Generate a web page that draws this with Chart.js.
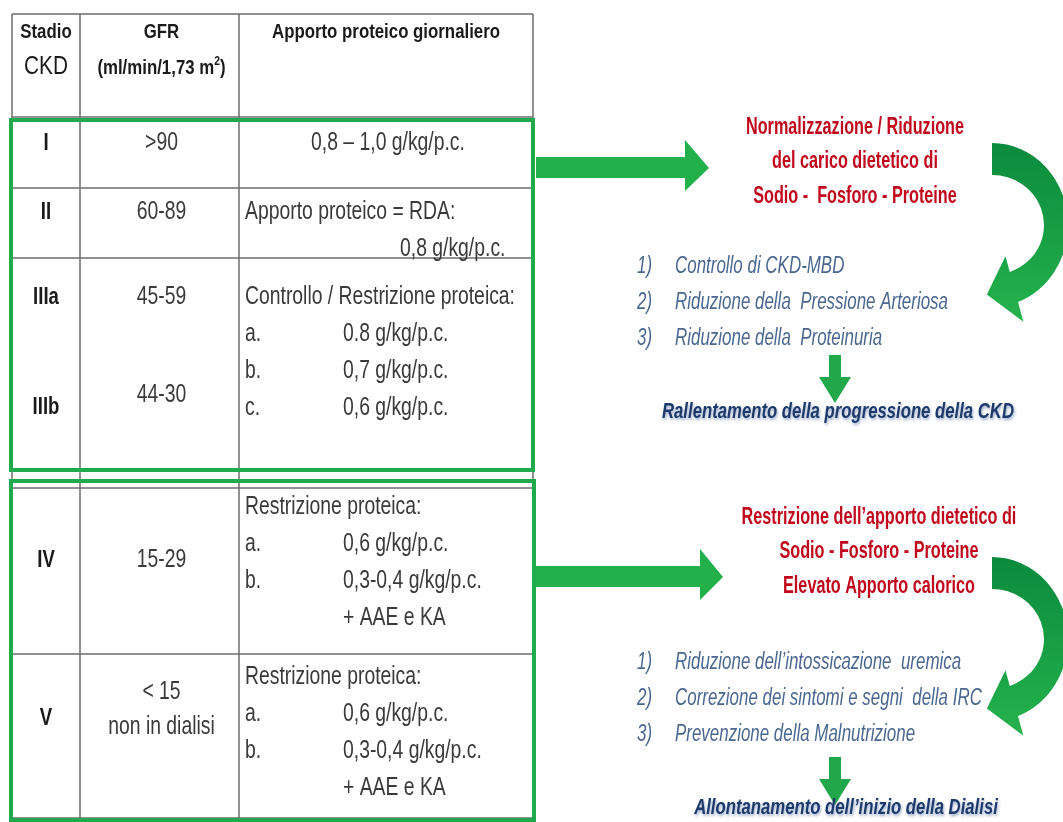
<!DOCTYPE html>
<html>
<head>
<meta charset="utf-8">
<script src="https://cdn.jsdelivr.net/npm/chart.js@4.4.1/dist/chart.umd.min.js"></script>
<style>
  html, body { margin: 0; padding: 0; background: #fff; }
  canvas { display: block; }
</style>
</head>
<body>
<canvas id="ckdChart" width="1063" height="822"></canvas>
<script>
// table content
var headers = [['Stadio', 'CKD'], ['GFR', '(ml/min/1,73 m', '2', ')'], ['Apporto proteico giornaliero']];
var stages = ['I', 'II', 'IIIa', 'IIIb', 'IV', 'V'];
var gfrRanges = [['>90'], ['60-89'], ['45-59'], ['44-30'], ['15-29'], ['< 15', 'non in dialisi']];
var intakeTitles = ['0,8 – 1,0 g/kg/p.c.', 'Apporto proteico = RDA:', 'Controllo / Restrizione proteica:', 'Restrizione proteica:', 'Restrizione proteica:'];
var intakeItems = [
  [],
  [['', '0,8 g/kg/p.c.']],
  [['a.', '0.8 g/kg/p.c.'], ['b.', '0,7 g/kg/p.c.'], ['c.', '0,6 g/kg/p.c.']],
  [['a.', '0,6 g/kg/p.c.'], ['b.', '0,3-0,4 g/kg/p.c.'], ['', '+ AAE e KA']],
  [['a.', '0,6 g/kg/p.c.'], ['b.', '0,3-0,4 g/kg/p.c.'], ['', '+ AAE e KA']]
];

// right side
var goals1 = ['Normalizzazione / Riduzione', 'del carico dietetico di', 'Sodio -  Fosforo - Proteine'];
var effects1 = ['Controllo di CKD-MBD', 'Riduzione della  Pressione Arteriosa', 'Riduzione della  Proteinuria'];
var outcome1 = 'Rallentamento della progressione della CKD';
var goals2 = ['Restrizione dell’apporto dietetico di', 'Sodio - Fosforo - Proteine', 'Elevato Apporto calorico'];
var effects2 = ['Riduzione dell’intossicazione  uremica', 'Correzione dei sintomi e segni  della IRC', 'Prevenzione della Malnutrizione'];
var outcome2 = 'Allontanamento dell’inizio della Dialisi';

// layout (pixels in the scale space)
var W = 1063, H = 822;
var cols = [12, 80, 239, 533];
var grayRows = [14, 117, 188, 258, 470, 488, 654, 818];
var stageY = [143, 212, 297, 407, 560, 718];
var gfrY = [[143], [212], [297], [395], [560], [692, 727]];
var intakeY = [143, 212, 297, 507, 677];
var lineStep = 37;
var greenBoxes = [[11, 120, 533, 470], [11, 481, 534, 820]];
var sections = [
  { goalsX: 855, goalsY: 127, listY: 267, outY: 412, outX: 838, arrowY: 168, arrowTip: 709, arrowBase: 685, downY: 355, curveTop: 143 },
  { goalsX: 879, goalsY: 517, listY: 663, outY: 808, outX: 846, arrowY: 577, arrowTip: 723, arrowBase: 700, downY: 757, curveTop: 557 }
];

var FONT = '"Liberation Sans", Arial, sans-serif';
var green = '#20a94d';

function diagram(chart) {
  var ctx = chart.ctx;
  var xs = chart.scales.x, ys = chart.scales.y;
  var X = function (v) { return xs.getPixelForValue(v); };
  var Y = function (v) { return ys.getPixelForValue(v); };

  function fitScale(font, s, w) {
    ctx.save(); ctx.font = font;
    var m = ctx.measureText(s).width; ctx.restore();
    return w / m;
  }
  function txt(s, x, y, font, color, sx, align) {
    ctx.save();
    ctx.font = font; ctx.fillStyle = color; ctx.textBaseline = 'middle';
    ctx.textAlign = align || 'left';
    ctx.translate(X(x), Y(y)); ctx.scale(sx, 1);
    ctx.fillText(s, 0, 0);
    ctx.restore();
  }

  ctx.save();
  ctx.fillStyle = '#fff';
  ctx.fillRect(0, 0, chart.width, chart.height);

  // gray grid
  ctx.strokeStyle = '#6e6e6e'; ctx.lineWidth = 1.5;
  ctx.beginPath();
  grayRows.forEach(function (r) { ctx.moveTo(X(cols[0]), Y(r)); ctx.lineTo(X(cols[3]), Y(r)); });
  cols.forEach(function (c) { ctx.moveTo(X(c), Y(grayRows[0])); ctx.lineTo(X(c), Y(grayRows[grayRows.length - 1])); });
  ctx.stroke();

  // green boxes
  ctx.strokeStyle = green; ctx.lineWidth = 4;
  greenBoxes.forEach(function (b) {
    ctx.strokeRect(X(b[0]), Y(b[1]), X(b[2]) - X(b[0]), Y(b[3]) - Y(b[1]));
  });

  // header
  var fH = 'bold 21px ' + FONT;
  var sxH = fitScale(fH, headers[2][0], 228);
  var c1 = (cols[0] + cols[1]) / 2, c2 = (cols[1] + cols[2]) / 2, c3 = (cols[2] + cols[3]) / 2;
  txt(headers[0][0], c1, 32, fH, '#1a1a1a', sxH, 'center');
  txt(headers[0][1], c1, 67, '26px ' + FONT, '#1a1a1a', sxH, 'center');
  txt(headers[1][0], c2 + 2, 32, fH, '#1a1a1a', sxH, 'center');
  // GFR unit with superscript
  ctx.save(); ctx.font = fH;
  var wa = ctx.measureText(headers[1][1]).width * sxH;
  var wc = ctx.measureText(headers[1][3]).width * sxH;
  ctx.font = 'bold 13px ' + FONT;
  var wb = ctx.measureText(headers[1][2]).width * sxH;
  ctx.restore();
  var gx = c2 + 2 - (wa + wb + wc) / 2;
  txt(headers[1][1], gx, 68, fH, '#1a1a1a', sxH);
  txt(headers[1][2], gx + wa, 61, 'bold 13px ' + FONT, '#1a1a1a', sxH);
  txt(headers[1][3], gx + wa + wb, 68, fH, '#1a1a1a', sxH);
  txt(headers[2][0], c3, 32, fH, '#1a1a1a', sxH, 'center');

  // stages, GFR, intake
  var fS = 'bold 24px ' + FONT;
  var fB = '25px ' + FONT;
  var sxB = fitScale(fB, intakeTitles[2], 270);
  stages.forEach(function (s, i) { txt(s, c1, stageY[i], fS, '#1a1a1a', sxB, 'center'); });
  gfrRanges.forEach(function (lines, i) {
    lines.forEach(function (l, j) { txt(l, c2 + 2, gfrY[i][j], fB, '#3a3a3a', sxB, 'center'); });
  });
  intakeTitles.forEach(function (t, i) {
    if (i === 0) txt(t, c3 + 2, intakeY[i], fB, '#3a3a3a', sxB, 'center');
    else txt(t, cols[2] + 6, intakeY[i], fB, '#3a3a3a', sxB);
    intakeItems[i].forEach(function (it, j) {
      var y = intakeY[i] + (j + 1) * lineStep;
      if (it[0]) txt(it[0], cols[2] + 6, y, fB, '#3a3a3a', sxB);
      var vx = (i === 1) ? 400 : 343;
      txt(it[1], vx, y, fB, '#3a3a3a', sxB);
    });
  });

  // right side texts and arrows
  var fR = 'bold 24px ' + FONT;
  var sxR = fitScale(fR, goals1[0], 218);
  var fL = 'italic 23px ' + FONT;
  var sxL = fitScale(fL, effects1[1], 273);
  var fO = 'italic bold 22px ' + FONT;
  var sxO = fitScale(fO, outcome1, 352);
  var blue = '#4a6790';

  [[goals1, effects1, outcome1], [goals2, effects2, outcome2]].forEach(function (grp, k) {
    var s = sections[k];
    grp[0].forEach(function (g, i) { txt(g, s.goalsX, s.goalsY + i * 34.5, fR, '#c0071c', sxR, 'center'); });
    grp[1].forEach(function (e, i) {
      txt((i + 1) + ')', 637, s.listY + i * 36, fL, blue, sxL);
      txt(e, 675, s.listY + i * 36, fL, blue, sxL);
    });

    // horizontal arrow
    ctx.fillStyle = '#22b04b';
    ctx.beginPath();
    ctx.moveTo(X(536), Y(s.arrowY - 11));
    ctx.lineTo(X(s.arrowBase), Y(s.arrowY - 11));
    ctx.lineTo(X(s.arrowBase), Y(s.arrowY - 28));
    ctx.lineTo(X(s.arrowTip), Y(s.arrowY));
    ctx.lineTo(X(s.arrowBase), Y(s.arrowY + 23));
    ctx.lineTo(X(s.arrowBase), Y(s.arrowY + 10));
    ctx.lineTo(X(536), Y(s.arrowY + 10));
    ctx.closePath(); ctx.fill();

    // down arrow
    var dx = 835;
    ctx.fillStyle = '#21a84a';
    ctx.beginPath();
    ctx.moveTo(X(dx - 6), Y(s.downY));
    ctx.lineTo(X(dx + 6), Y(s.downY));
    ctx.lineTo(X(dx + 6), Y(s.downY + 22));
    ctx.lineTo(X(dx + 16), Y(s.downY + 22));
    ctx.lineTo(X(dx), Y(s.downY + 48));
    ctx.lineTo(X(dx - 16), Y(s.downY + 22));
    ctx.lineTo(X(dx - 6), Y(s.downY + 22));
    ctx.closePath(); ctx.fill();

    // curved arrow
    var cx = X(992), cy = Y(s.curveTop + 82);
    var rxo = 76, ryo = 82, rxi = 52, ryi = 50;
    var a1 = Math.PI * 70 / 180;
    var ox = cx + rxo * Math.cos(a1), oy = cy + ryo * Math.sin(a1);
    var ix = cx + rxi * Math.cos(a1), iy = cy + ryi * Math.sin(a1);
    var mx = (ox + ix) / 2, my = (oy + iy) / 2;
    var bx = ox - ix, by = oy - iy, bl = Math.hypot(bx, by); bx /= bl; by /= bl;
    var tx = -by, ty = bx;
    if (tx > 0) { tx = -tx; ty = -ty; }
    var grad = ctx.createLinearGradient(0, Y(s.curveTop), 0, Y(s.curveTop + 180));
    grad.addColorStop(0, '#0b8a3d'); grad.addColorStop(1, '#25b34d');
    ctx.fillStyle = grad;
    ctx.beginPath();
    ctx.ellipse(cx, cy, rxo, ryo, 0, -Math.PI / 2, a1, false);
    ctx.lineTo(mx + bx * 36, my + by * 36);
    ctx.lineTo(mx + tx * 28, my + ty * 28);
    ctx.lineTo(mx - bx * 32, my - by * 32);
    ctx.lineTo(ix, iy);
    ctx.ellipse(cx, cy, rxi, ryi, 0, a1, -Math.PI / 2, true);
    ctx.closePath(); ctx.fill();

    // outcome with soft shadow
    ctx.save();
    ctx.shadowColor = 'rgba(70,100,160,0.55)'; ctx.shadowBlur = 3;
    ctx.shadowOffsetX = 1; ctx.shadowOffsetY = 2;
    txt(grp[2], s.outX, s.outY, fO, '#1d3a6b', sxO, 'center');
    ctx.restore();
  });

  ctx.restore();
}

var chart = new Chart(document.getElementById('ckdChart'), {
  type: 'scatter',
  data: { datasets: [{ data: [] }] },
  options: {
    responsive: false,
    animation: false,
    events: [],
    layout: { padding: 0 },
    plugins: { legend: { display: false }, tooltip: { enabled: false } },
    scales: {
      x: { type: 'linear', min: 0, max: W, display: false },
      y: { type: 'linear', min: 0, max: H, reverse: true, display: false }
    }
  },
  plugins: [{ id: 'ckdTable', afterDraw: diagram }]
});
</script>
</body>
</html>
